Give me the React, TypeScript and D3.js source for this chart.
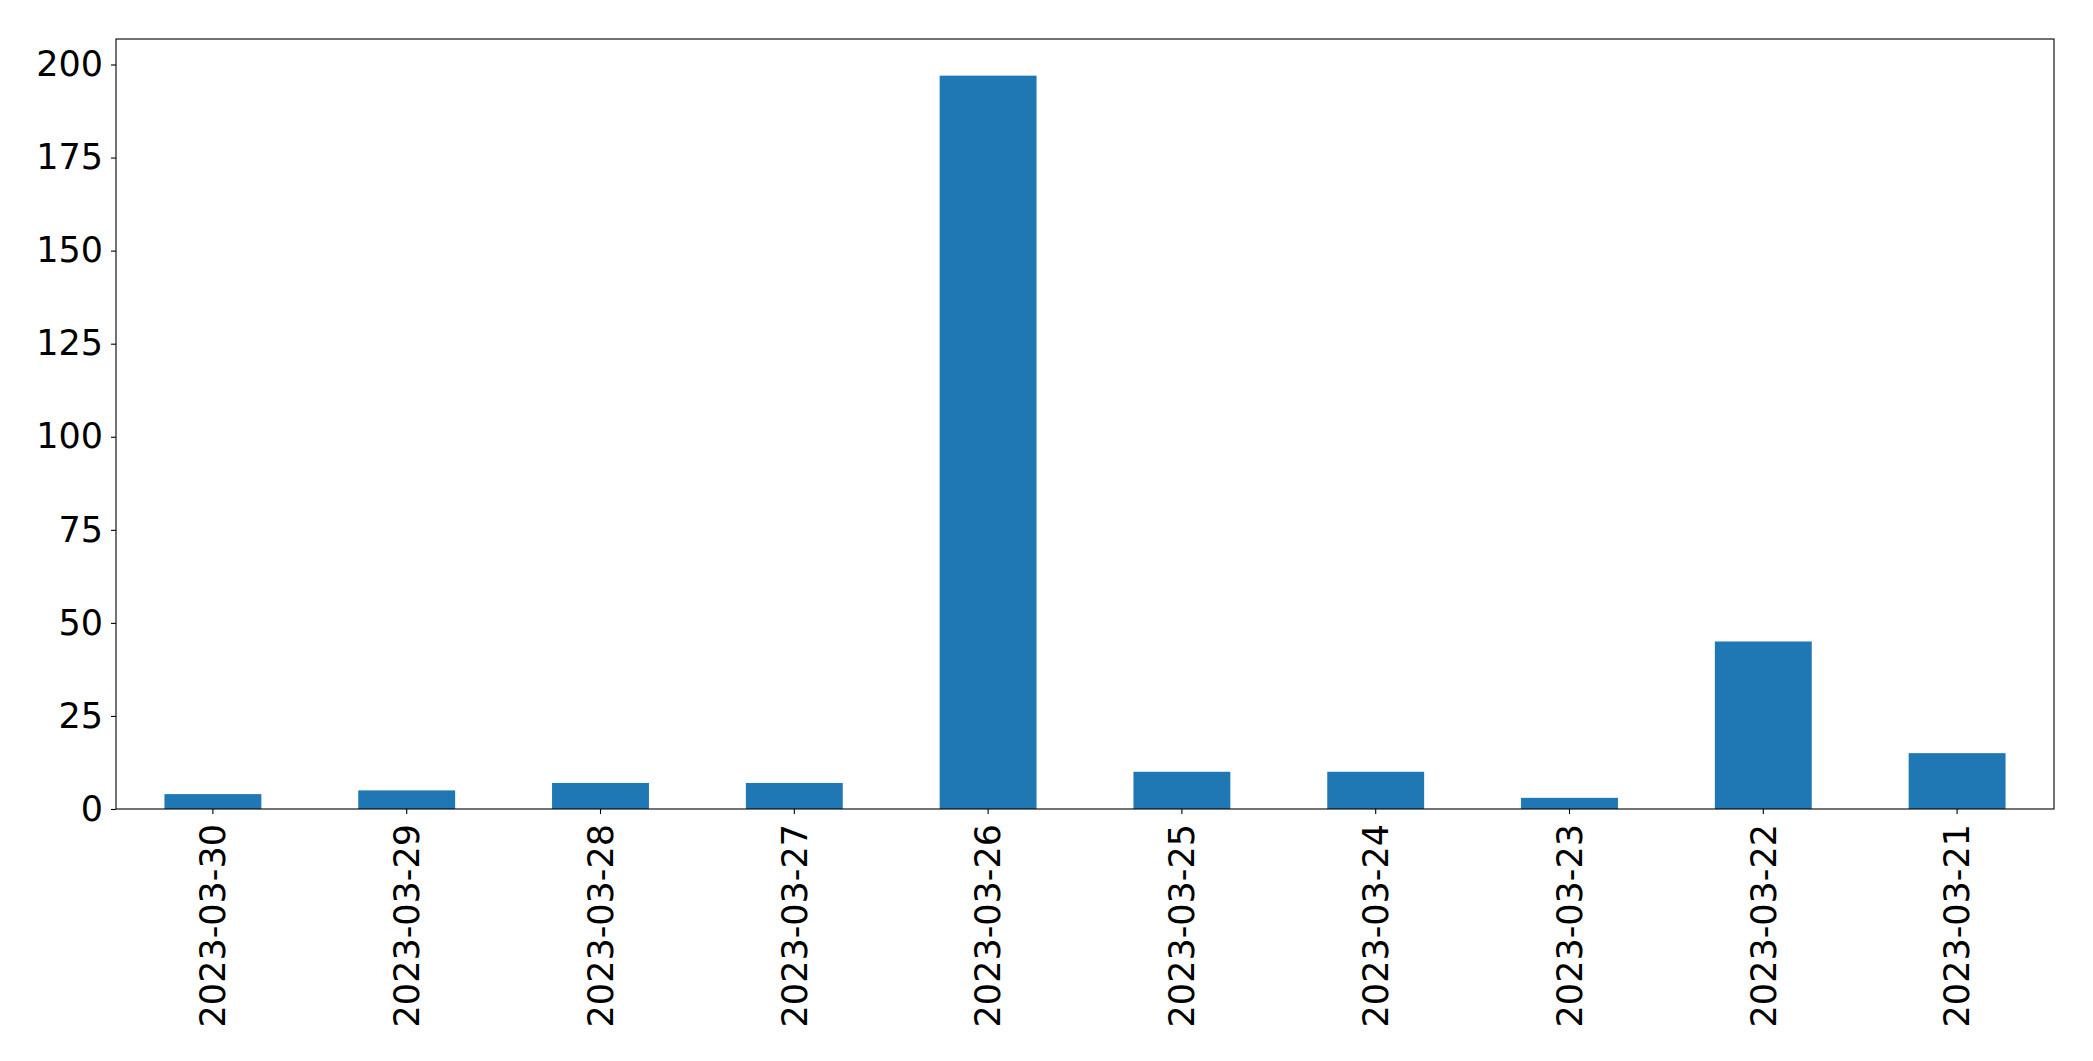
import React, { useRef, useEffect } from 'react';
import * as d3 from 'd3';

const dates = [
  '2023-03-30',
  '2023-03-29',
  '2023-03-28',
  '2023-03-27',
  '2023-03-26',
  '2023-03-25',
  '2023-03-24',
  '2023-03-23',
  '2023-03-22',
  '2023-03-21',
];
const counts = [4, 5, 7, 7, 197, 10, 10, 3, 45, 15];
const yTicks = [0, 25, 50, 75, 100, 125, 150, 175, 200];

const App = () => {
  const Svg = useRef<SVGSVGElement>(null);

  useEffect(() => {
    const svgWidth = 2093;
    const svgHeight = 1061;
    const margin = { top: 39, right: 39, bottom: 252, left: 116 };
    const w = svgWidth - margin.left - margin.right;
    const h = svgHeight - margin.top - margin.bottom;
    const font = 'DejaVu Sans, sans-serif';
    const fontSize = 35;

    const svg = d3
      .select(Svg.current)
      .attr('width', svgWidth)
      .attr('height', svgHeight);
    svg.selectAll('*').remove();

    const g = svg
      .append('g')
      .attr('transform', `translate(${margin.left}, ${margin.top})`);

    // bar width 0.5 of a step, half-step margin at both ends
    const xScale = d3
      .scaleBand()
      .domain(dates)
      .range([0, w])
      .paddingInner(0.5)
      .paddingOuter(0.25);
    const yScale = d3
      .scaleLinear()
      .domain([0, d3.max(counts) * 1.05])
      .range([h, 0]);

    // bars
    g.selectAll('rect')
      .data(counts)
      .enter()
      .append('rect')
      .attr('x', (d, i) => xScale(dates[i]))
      .attr('y', (d) => yScale(d))
      .attr('width', xScale.bandwidth())
      .attr('height', (d) => h - yScale(d))
      .attr('fill', '#1f77b4');

    // y axis
    const yAxis = d3
      .axisLeft(yScale)
      .tickValues(yTicks)
      .tickSize(5)
      .tickPadding(8)
      .tickFormat(d3.format('d'));
    const yg = g.append('g').call(yAxis);
    yg.select('.domain').remove();
    yg.selectAll('text')
      .attr('font-family', font)
      .attr('font-size', fontSize)
      .attr('fill', '#000');
    yg.selectAll('line').attr('stroke', '#000').attr('stroke-width', 1.1);

    // x axis
    const xAxis = d3.axisBottom(xScale).tickSize(5).tickPadding(0);
    const xg = g.append('g').attr('transform', `translate(0, ${h})`).call(xAxis);
    xg.select('.domain').remove();
    xg.selectAll('line').attr('stroke', '#000').attr('stroke-width', 1.1);
    xg.selectAll('text')
      .attr('font-family', font)
      .attr('font-size', fontSize)
      .attr('fill', '#000')
      .attr('transform', 'rotate(-90)')
      .attr('text-anchor', 'end')
      .attr('x', -15)
      .attr('y', 0)
      .attr('dy', '0.35em');

    // frame
    g.append('rect')
      .attr('x', 0)
      .attr('y', 0)
      .attr('width', w)
      .attr('height', h)
      .attr('fill', 'none')
      .attr('stroke', '#000')
      .attr('stroke-width', 1.1);
  }, []);

  return (
    <svg
      ref={Svg}
      style={{ position: 'absolute', left: 0, top: 0, background: '#fff' }}
    />
  );
};

export default App;
